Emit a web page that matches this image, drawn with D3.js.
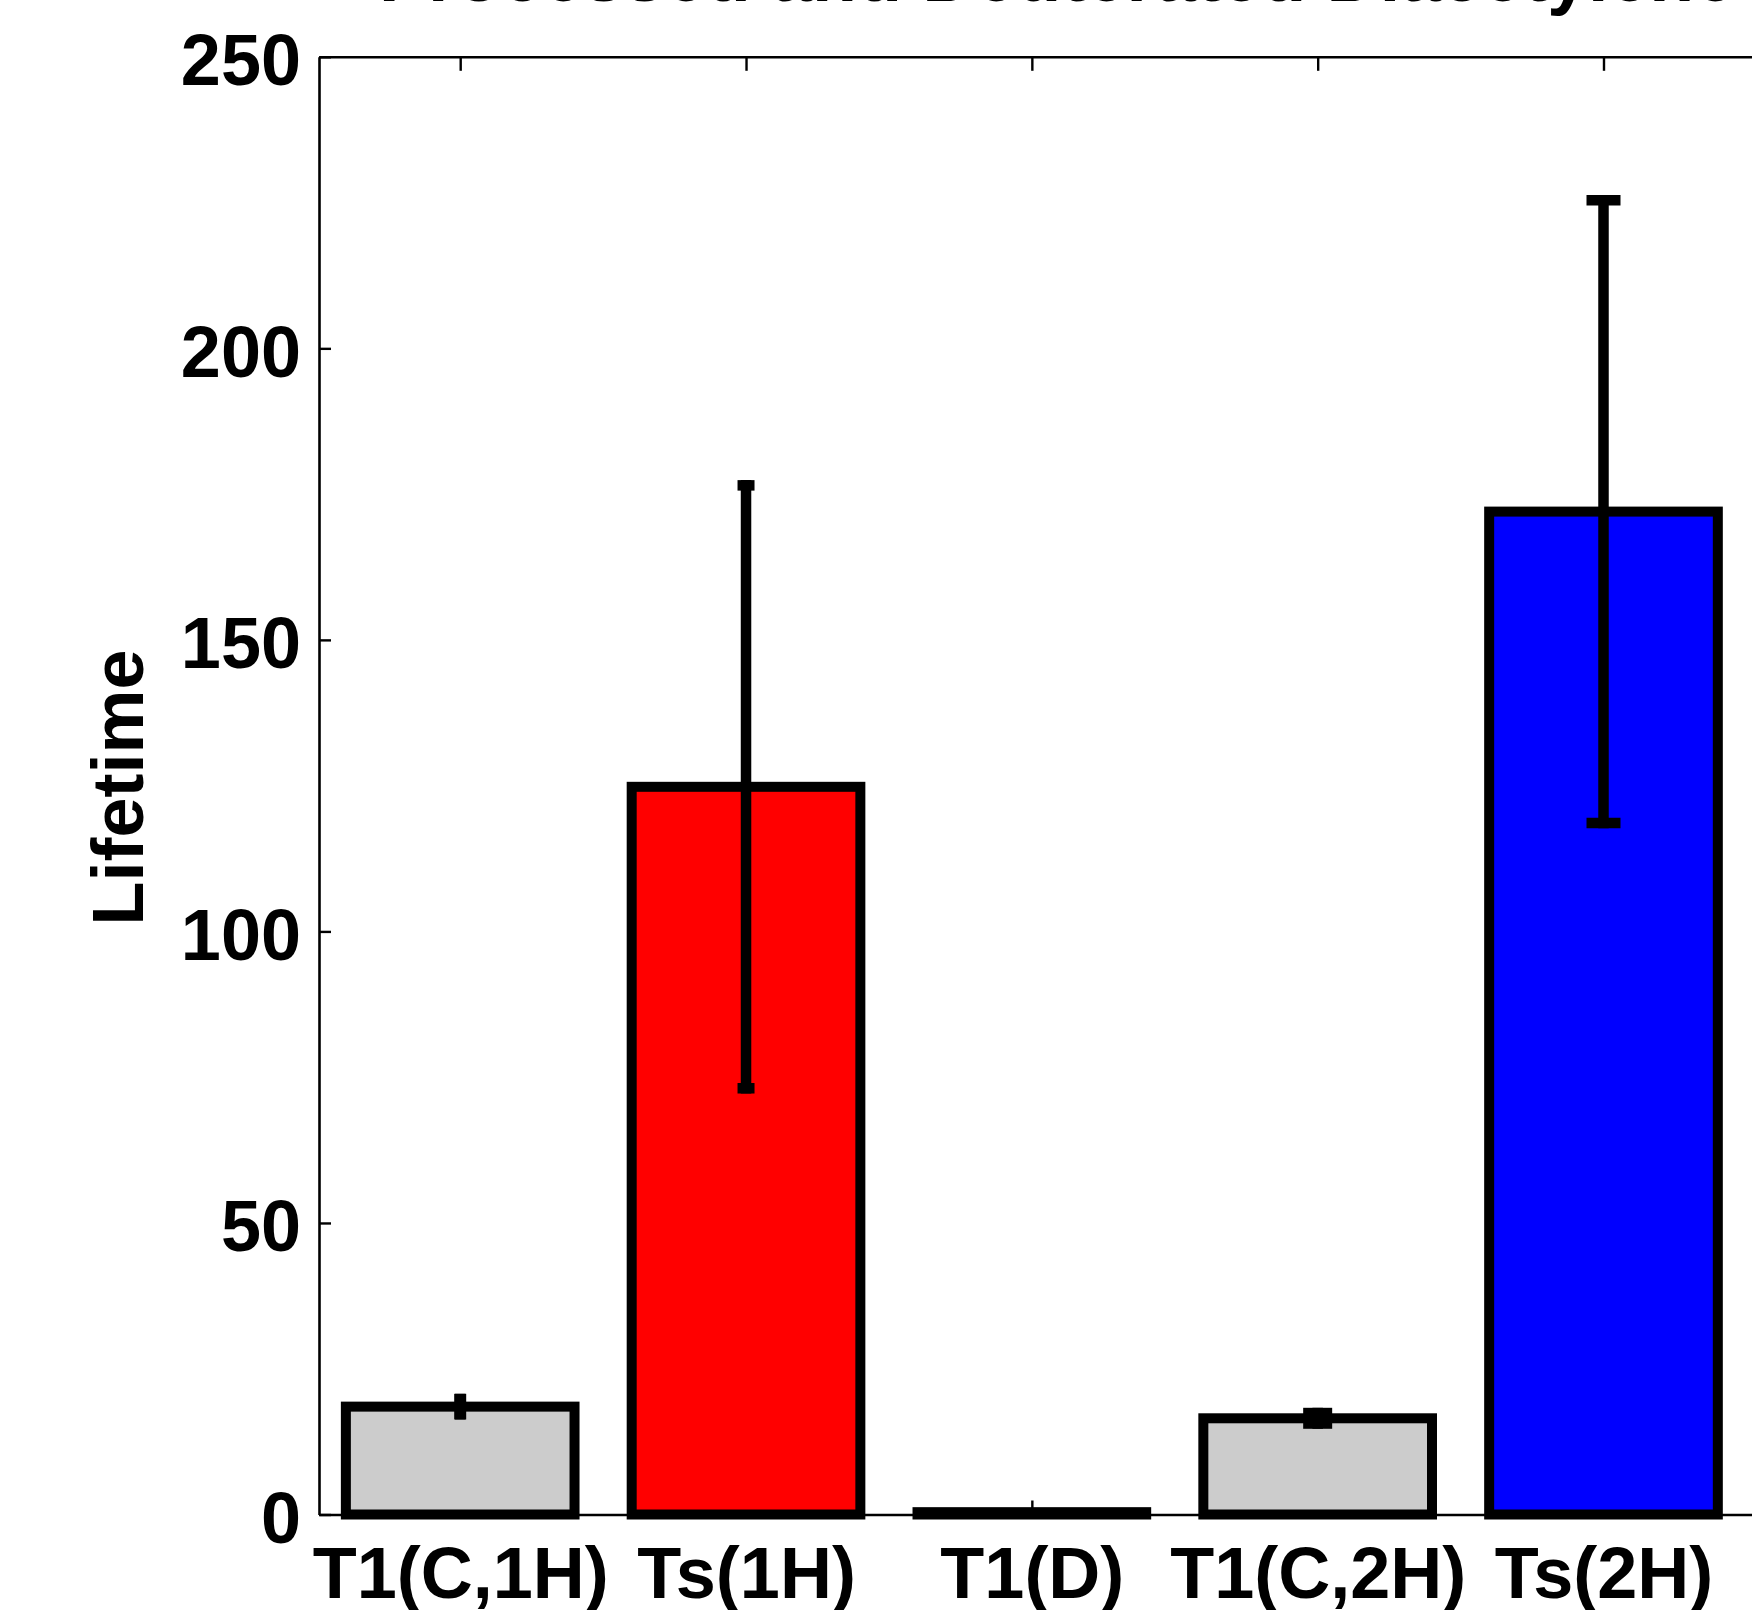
<!DOCTYPE html>
<html>
<head>
<meta charset="utf-8">
<script src="https://cdn.jsdelivr.net/npm/d3@7"></script>
<style>
  html, body { margin: 0; padding: 0; background: #fff; }
  svg { display: block; font-family: "Liberation Sans", Arial, Helvetica, sans-serif; font-weight: bold; }
</style>
</head>
<body>
<svg id="chart" width="1752" height="1610"></svg>
<script>
// ---- data ----
const categories = ["T1(C,1H)", "Ts(1H)", "T1(D)", "T1(C,2H)", "Ts(2H)"];
const lifetimes  = [18.5, 124.8, 0.4, 16.5, 172.0];
const errors     = [1.3, 51.7, 0, 0.9, 53.4];
const yTicks     = [0, 50, 100, 150, 200, 250];
const titleText  = "Processed and Deuterated Diacetylene";
const yLabel     = "Lifetime";

// ---- styles ----
const barColors  = ["#cccccc", "#ff0000", "#cccccc", "#cccccc", "#0000ff"];
const capWidths  = [12, 17, 0, 29, 34];

(function () {
const svg = d3.select("#chart");
const plotLeft = 319, plotRight = 1795, plotTop = 56.8, plotBottom = 1514.5;
const fontSize = 72;

const x = d3.scaleLinear().domain([0.506, 5.67]).range([plotLeft, plotRight]);
const y = d3.scaleLinear().domain([0, 250]).range([plotBottom, plotTop]);
const positions = categories.map((c, i) => i + 1);

// title (mostly cut off at the top)
svg.append("text")
  .attr("x", (plotLeft + plotRight) / 2)
  .attr("y", 1)
  .attr("text-anchor", "middle")
  .attr("font-size", 73.5)
  .text(titleText);

// axes (drawn beneath bars)
const axisStroke = 2.6;
const gLeft = svg.append("g").attr("transform", `translate(${plotLeft},0)`)
  .call(d3.axisLeft(y).tickValues(yTicks).tickSizeInner(-12).tickSizeOuter(0).tickPadding(18).tickFormat(d3.format("d")));
const gTop = svg.append("g").attr("transform", `translate(0,${plotTop})`)
  .call(d3.axisTop(x).tickValues(positions).tickSizeInner(-14).tickSizeOuter(0).tickFormat(""));
const gBottom = svg.append("g").attr("transform", `translate(0,${plotBottom})`)
  .call(d3.axisBottom(x).tickValues(positions).tickSizeInner(-14).tickSizeOuter(0).tickPadding(0)
    .tickFormat((d) => categories[d - 1]));

[gLeft, gTop, gBottom].forEach(g => {
  g.select(".domain").attr("stroke", "#000").attr("stroke-width", axisStroke);
  g.selectAll(".tick line").attr("stroke", "#000").attr("stroke-width", 2.4);
  g.selectAll("text").attr("fill", "#000").attr("font-size", fontSize)
    .attr("font-family", "'Liberation Sans', Arial, sans-serif").attr("font-weight", "bold");
});
gLeft.selectAll(".tick text").attr("dy", null).attr("y", 28);
gBottom.selectAll(".tick text").attr("dy", null).attr("y", 83.5);

// y label
svg.append("text")
  .attr("transform", `translate(143,787.5) rotate(-90)`)
  .attr("text-anchor", "middle")
  .attr("font-size", fontSize)
  .text(yLabel);

// bars
const halfW = (x(1.4) - x(0.6)) / 2;
svg.append("g").selectAll("rect")
  .data(lifetimes)
  .join("rect")
  .attr("x", (d, i) => x(positions[i]) - halfW)
  .attr("width", halfW * 2)
  .attr("y", d => y(d))
  .attr("height", d => y(0) - y(d))
  .attr("fill", (d, i) => barColors[i])
  .attr("stroke", "#000")
  .attr("stroke-width", 10);

// error bars
const eg = svg.append("g").attr("stroke", "#000").attr("stroke-width", 10.5);
lifetimes.forEach((v, i) => {
  const e = errors[i];
  if (!e) return;
  const cx = x(positions[i]);
  const hi = y(v + e), lo = y(v - e);
  eg.append("line").attr("x1", cx).attr("x2", cx).attr("y1", hi - 5.25).attr("y2", lo + 5.25);
  const cw = capWidths[i] / 2;
  if (cw > 5.25) {
    eg.append("line").attr("x1", cx - cw).attr("x2", cx + cw).attr("y1", hi).attr("y2", hi);
    eg.append("line").attr("x1", cx - cw).attr("x2", cx + cw).attr("y1", lo).attr("y2", lo);
  }
});
})();
</script>
</body>
</html>
